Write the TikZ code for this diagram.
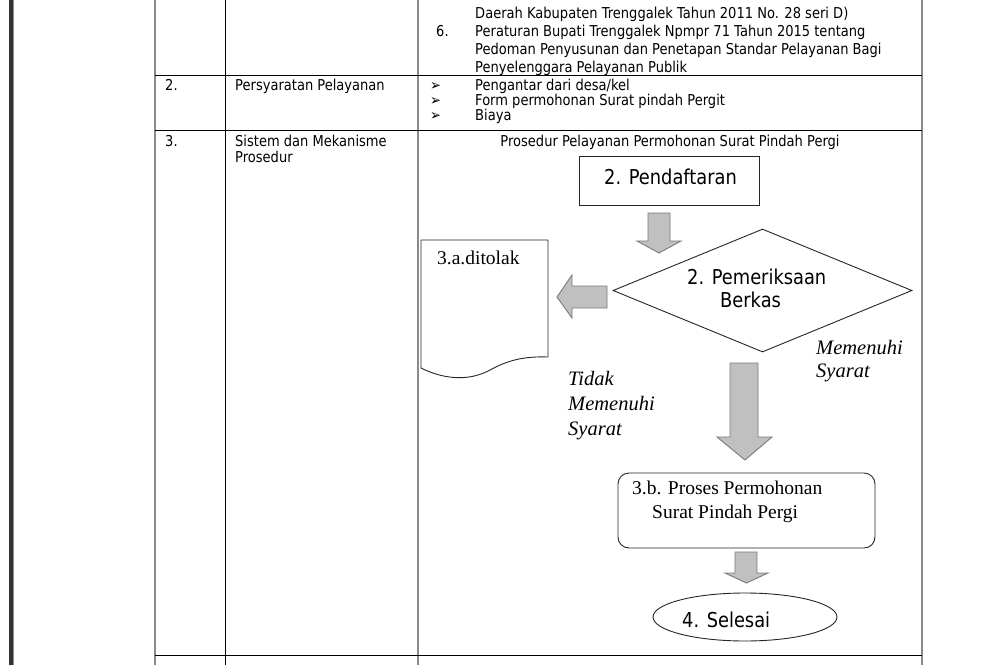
\documentclass[tikz,border=0pt]{standalone}
\usepackage{fontspec}
\setmainfont{Liberation Serif}
\newfontfamily\tahfont[FakeStretch=0.87]{DejaVu Sans}
\usetikzlibrary{shapes.geometric}
\definecolor{tgray}{HTML}{8A8A8A}
\definecolor{afill}{HTML}{C0C0C0}
\definecolor{aline}{HTML}{7A7A7A}
\begin{document}
\begin{tikzpicture}[x=1pt,y=-1pt,
  tline/.style={line width=1pt,black},
  gline/.style={line width=1.6pt,tgray},
  ttext/.style={anchor=base west,inner sep=0pt,font=\tahfont\fontsize{15}{17}\selectfont},
  ctext/.style={anchor=base west,inner sep=0pt,font=\tahfont\fontsize{20.5}{24}\selectfont},
  stext/.style={anchor=base west,inner sep=0pt,font=\fontsize{19.5}{23}\selectfont},
  itext/.style={anchor=base west,inner sep=0pt,font=\itshape\fontsize{20.5}{24}\selectfont},
  shapeline/.style={draw=black!85,line width=0.9pt},
  barrow/.style={fill=afill,draw=aline,line width=0.9pt,line join=miter}]
\useasboundingbox (0,0) rectangle (997,665);
\fill[white] (0,0) rectangle (997,665);
% left thick bar
\fill[black!80] (9,0) rectangle (13,665);
\fill[black!45] (13,0) rectangle (14.3,665);
% table grid
\draw[gline] (155,0) -- (155,665);
\draw[tline] (225,0) -- (225,665);
\draw[gline] (418,0) -- (418,665);
\draw[gline] (922,0) -- (922,665);
\draw[tline] (155,75) -- (922,75);
\draw[tline] (155,130) -- (922,130);
\draw[tline] (155,655) -- (922,655);
% row 1
\node[ttext] (r1a) at (475,18) {Daerah Kabupaten Trenggalek Tahun 2011 No. 28 seri D)};
\node[ttext] (n6) at (436,36) {6.};
\node[ttext] (r1b) at (475,36) {Peraturan Bupati Trenggalek Npmpr 71 Tahun 2015 tentang};
\node[ttext] (r1c) at (475,54) {Pedoman Penyusunan dan Penetapan Standar Pelayanan Bagi};
\node[ttext] (r1d) at (475,72) {Penyelenggara Pelayanan Publik};
% row 2
\node[ttext] (n2) at (165,90) {2.};
\node[ttext] (c2) at (235,90) {Persyaratan Pelayanan};
\node[ttext] (b1) at (430,90) {➢};
\node[ttext] (b2) at (430,105) {➢};
\node[ttext] (b3) at (430,120) {➢};
\node[ttext] (p1) at (475,90) {Pengantar dari desa/kel};
\node[ttext] (p2) at (475,105) {Form permohonan Surat pindah Pergit};
\node[ttext] (p3) at (475,120) {Biaya};
% row 3
\node[ttext] (n3) at (165,146) {3.};
\node[ttext] (c3a) at (235,146) {Sistem dan Mekanisme};
\node[ttext] (c3b) at (235,162) {Prosedur};
\node[anchor=base,inner sep=0pt,font=\tahfont\fontsize{15}{17}\selectfont] (title) at (670,146) {Prosedur Pelayanan Permohonan Surat Pindah Pergi};
% flowchart shapes
\node[shapeline,rectangle,minimum width=180pt,minimum height=49pt,inner sep=0pt] (pend) at (669,180.5) {};
\node[ctext] (pendt) at (604,184) {2. Pendaftaran};
\node[shapeline,diamond,minimum width=299pt,minimum height=123pt,inner sep=0pt] (cek) at (762.5,290.5) {};
\node[ctext] (cekt1) at (687,284) {2. Pemeriksaan};
\node[ctext] (cekt2) at (720,307) {Berkas};
% document shape
\coordinate (dnw) at (421,240);
\coordinate (dne) at (548,240);
\coordinate (dse) at (548,357);
\coordinate (dsw) at (421,368);
\draw[shapeline,line join=round] (dsw) -- (dnw) -- (dne) -- (dse)
   .. controls (520,356) and (505,362) .. (490,370)
   .. controls (470,381) and (445,380) .. (dsw);
\node[stext] (tolak) at (437,264) {3.a.ditolak};
% labels
\node[itext] (ya1) at (816,354) {Memenuhi};
\node[itext] (ya2) at (816,377) {Syarat};
\node[itext] (no1) at (568,385) {Tidak};
\node[itext] (no2) at (568,410) {Memenuhi};
\node[itext] (no3) at (568,435) {Syarat};
% process box
\node[shapeline,rectangle,rounded corners=11pt,minimum width=257pt,minimum height=75pt,inner sep=0pt] (proses) at (746.5,510.5) {};
\node[stext] (pr1) at (632,494) {3.b. Proses Permohonan};
\node[stext] (pr2) at (652,518) {Surat Pindah Pergi};
% end ellipse
\node[shapeline,ellipse,minimum width=184pt,minimum height=48pt,inner sep=0pt] (selesai) at (745,617) {};
\node[ctext] (selt) at (682,627) {4. Selesai};
% block arrows
\draw[barrow] (648,213) -- (670,213) -- (670,241) -- (681,241) -- (659,253) -- (637,241) -- (648,241) -- cycle;
\draw[barrow] (607,286) -- (607,308) -- (572,308) -- (572,318) -- (557,297) -- (572,275) -- (572,286) -- cycle;
\draw[barrow] (730,363) -- (758,363) -- (758,437) -- (772,437) -- (745,460) -- (717,437) -- (730,437) -- cycle;
\draw[barrow] (735,552) -- (757,552) -- (757,573) -- (768,573) -- (746.5,583) -- (725,573) -- (735,573) -- cycle;
\end{tikzpicture}
\end{document}
